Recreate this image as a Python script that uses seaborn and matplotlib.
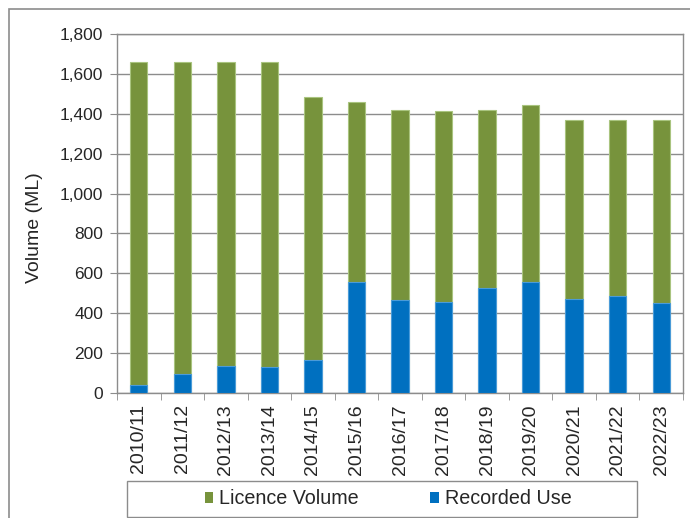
import numpy as np
import pandas as pd
import seaborn as sns
import matplotlib.pyplot as plt
from matplotlib.patches import Rectangle, Patch
from matplotlib.ticker import FuncFormatter, FixedLocator

# values
years = ['2010/11', '2011/12', '2012/13', '2013/14', '2014/15', '2015/16', '2016/17',
         '2017/18', '2018/19', '2019/20', '2020/21', '2021/22', '2022/23']
licence_volume = [1658, 1658, 1658, 1658, 1483, 1461, 1417, 1412, 1420, 1442, 1370, 1370, 1370]
recorded_use = [42, 97, 137, 132, 167, 556, 464, 458, 526, 556, 469, 486, 453]

green = '#77933C'
blue = '#0070C0'
grey = '#8C8C8C'

df = pd.DataFrame({'Year': years, 'Licence Volume': licence_volume, 'Recorded Use': recorded_use})

sns.set_style('white')
plt.rcParams['font.family'] = ['Liberation Sans', 'DejaVu Sans']

fig = plt.figure(figsize=(6.9, 5.18), dpi=100)
ax = fig.add_axes([117 / 690, 1 - 393 / 518, (683 - 117) / 690, (393 - 34) / 518])

sns.barplot(data=df, x='Year', y='Licence Volume', color=green, width=0.4,
            edgecolor='#A9C47F', linewidth=0.8, saturation=1, ax=ax, zorder=2)
sns.barplot(data=df, x='Year', y='Recorded Use', color=blue, width=0.4,
            edgecolor='#4A9BD8', linewidth=0.8, saturation=1, ax=ax, zorder=3)

ax.set_ylim(0, 1800)
ax.set_xlim(-0.5, len(years) - 0.5)
ax.set_yticks(np.arange(0, 1801, 200))
ax.yaxis.set_major_formatter(FuncFormatter(lambda v, p: f'{int(v):,}'))
ax.grid(axis='y', color=grey, linewidth=1, zorder=0)
ax.set_axisbelow(True)

ax.set_xlabel('')
ax.set_ylabel('Volume (ML)', fontsize=14)
ax.yaxis.set_label_coords(-0.13, 0.46)
ax.tick_params(axis='y', labelsize=12.5, length=5, color=grey, direction='out', left=True, pad=5)
ax.tick_params(axis='x', which='major', labelsize=14, length=0, rotation=90, pad=8)
ax.xaxis.set_minor_locator(FixedLocator(np.arange(-0.5, len(years), 1)))
ax.tick_params(axis='x', which='minor', length=5, color=grey, direction='out', bottom=True)

for s in ax.spines.values():
    s.set_color(grey)
    s.set_linewidth(1)

# legend box drawn separately, Excel style
fig.patches.append(Rectangle((127 / 690, 1 - 517 / 518), (637 - 127) / 690, 36 / 518,
                             transform=fig.transFigure, fill=False, edgecolor=grey, linewidth=1))
handles = [Patch(facecolor=green, edgecolor='none'), Patch(facecolor=blue, edgecolor='none')]
fig.legend(handles, ['Licence Volume', 'Recorded Use'], loc='center',
           bbox_to_anchor=(388 / 690, 1 - 499 / 518), ncol=2, fontsize=14.2,
           frameon=False, handlelength=0.45, handleheight=0.45,
           handletextpad=0.3, columnspacing=3.6)

# outer chart border
fig.patches.append(Rectangle((9 / 690, -0.1), 1.2, 1 - 9 / 518 + 0.1, transform=fig.transFigure,
                             fill=False, edgecolor=grey, linewidth=1.2))

fig.savefig('out.png', dpi=100)
